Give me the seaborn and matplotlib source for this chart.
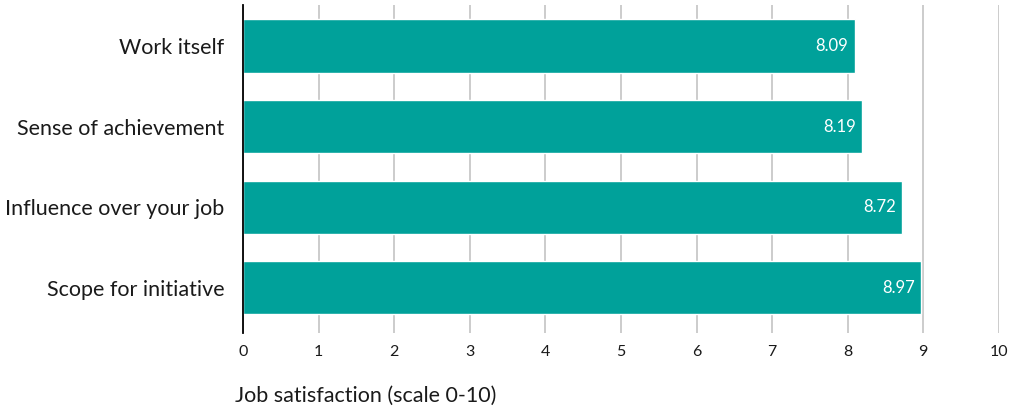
import seaborn as sns
import matplotlib.pyplot as plt
import pandas as pd

# data
categories = ["Work itself", "Sense of achievement", "Influence over your job", "Scope for initiative"]
scores = [8.09, 8.19, 8.72, 8.97]
x_ticks = [0, 1, 2, 3, 4, 5, 6, 7, 8, 9, 10]

df = pd.DataFrame({"category": categories, "score": scores})

sns.set_theme(style="white")
plt.rcParams['font.family'] = ['Lato', 'DejaVu Sans']

fig = plt.figure(figsize=(10.1, 4.07), dpi=100)
ax = fig.add_axes([0.2406, 0.182, 0.7484, 0.806])

sns.barplot(data=df, x="score", y="category", color="#00A19A", saturation=1,
            width=0.66, ax=ax, zorder=3)

# value labels inside bar ends
for i, v in enumerate(scores):
    ax.text(v - 0.08, i, f"{v:.2f}", color="white", ha="right", va="center", fontsize=12, zorder=4)

ax.set_xlim(0, 10)
ax.set_ylim(3.56, -0.51)
ax.set_xticks(x_ticks)
ax.set_xticklabels([str(t) for t in x_ticks], fontsize=11.5, color="#1a1a1a")
ax.tick_params(axis="x", length=0, pad=9)
ax.tick_params(axis="y", length=0, pad=13.5, labelsize=15.5, labelcolor="#1a1a1a")
ax.grid(axis="x", color="#c8c8c8", linewidth=1.3, zorder=0)
ax.set_axisbelow(True)

for s in ["top", "right", "bottom"]:
    ax.spines[s].set_visible(False)
ax.spines["left"].set_color("black")
ax.spines["left"].set_linewidth(1.3)
ax.spines["left"].set_zorder(5)

ax.set_ylabel("")
ax.set_xlabel("")
fig.text(235 / 1010, 1 - 396 / 407, "Job satisfaction (scale 0-10)", fontsize=15.5,
         ha="left", va="center", color="#1a1a1a")

fig.savefig("out.png", dpi=100)
